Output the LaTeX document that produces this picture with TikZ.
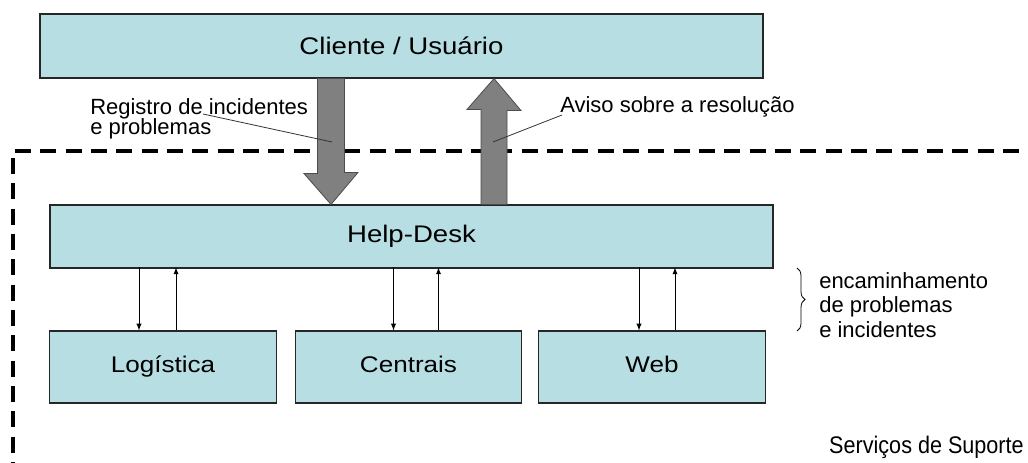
\documentclass[tikz,border=0pt]{standalone}
\usepackage{fontspec}
\setmainfont{Liberation Sans}
\newfontfamily\boxfont[FakeStretch=1.15]{Liberation Sans}
\newfontfamily\narrowfont[FakeStretch=0.9]{Liberation Sans}
\usetikzlibrary{calc,decorations.pathreplacing}
\definecolor{boxcyan}{RGB}{183,222,227}
\definecolor{arrowgray}{RGB}{128,128,128}

\begin{document}
\begin{tikzpicture}[>=latex, x=0.75pt, y=-0.75pt,
    box/.style={draw=black!85, line width=0.8pt, fill=boxcyan, inner sep=0pt,
      font=\boxfont\fontsize{18}{21}\selectfont},
    unit/.style={box, minimum width=170pt, minimum height=54pt,
      text height=12.5pt, text depth=3.5pt,
      font=\boxfont\fontsize{17}{20}\selectfont},
    bigarrow/.style={fill=arrowgray, draw=black!70, line width=0.6pt},
    lbl/.style={inner sep=0pt, align=left, font=\fontsize{16.5}{15.5}\selectfont},
    leader/.style={draw=black!80, line width=0.6pt},
    border/.style={line width=2.4pt, dash pattern=on 12pt off 7pt}]
  \useasboundingbox (0,0) rectangle (1028,463);

  % service boundary
  \draw[border] (15,151) -- (1028,151);
  \draw[border] (13,158) -- (13,463);

  % boxes
  \node[box, minimum width=542.25pt, minimum height=48pt] (cliente) at (401.5,46) {Cliente / Usuário};
  \node[box, minimum width=542.25pt, minimum height=47.25pt] (helpdesk) at (411.5,236.5) {Help-Desk};
  \node[unit] (logistica) at (163,367) {Logística};
  \node[unit] (centrais) at (408.5,367) {Centrais};
  \node[unit] (web) at (652,367) {Web};

  % thin arrows between help-desk and the units
  \foreach \n/\d/\u in {logistica/-24/13, centrais/-15/30, web/-13/23} {
    \draw[->, line width=0.75pt] ($(\n.north)+(\d,-63)$) -- ($(\n.north)+(\d,0)$);
    \draw[->, line width=0.75pt] ($(\n.north)+(\u,0)$) -- ($(\n.north)+(\u,-63)$);
  }

  % big arrows
  \coordinate (regx) at (331,0);
  \coordinate (avix) at (494,0);
  \draw[bigarrow] ($(regx |- cliente.south)+(-13.5,0)$) -- ++(0,95) -- ++(-13.5,0)
    -- (regx |- helpdesk.north) -- ++(27,-32) -- ++(-13.5,0)
    -- ($(regx |- cliente.south)+(13.5,0)$) -- cycle;
  \draw[bigarrow] ($(avix |- helpdesk.north)+(-13,0)$) -- ++(0,-95) -- ++(-14,0)
    -- (avix |- cliente.south) -- ++(27,32) -- ++(-14,0)
    -- ($(avix |- helpdesk.north)+(13,0)$) -- cycle;

  % labels
  \node[lbl, anchor=north west] (registro) at (90,98) {Registro de incidentes\\e problemas};
  \node[lbl, anchor=base west] (aviso) at (560,113) {Aviso sobre a resolução};
  \coordinate (regfrom) at (203,114);
  \coordinate (regto) at (332,142);
  \coordinate (avifrom) at (562,115);
  \coordinate (avito) at (493,142);
  \draw[leader] (regfrom) -- (regto);
  \draw[leader] (avifrom) -- (avito);

  \draw[decorate, decoration={brace, amplitude=6pt}, line width=0.6pt] (797,268) -- (797,331);
  \node[lbl, anchor=north west, font=\fontsize{16.5}{18.4}\selectfont] (encam) at (819,272)
    {encaminhamento\\de problemas\\e incidentes};

  \node[inner sep=0pt, anchor=base east, font=\narrowfont\fontsize{18}{20}\selectfont] (servicos) at (1024,453) {Serviços de Suporte};
\end{tikzpicture}
\end{document}
